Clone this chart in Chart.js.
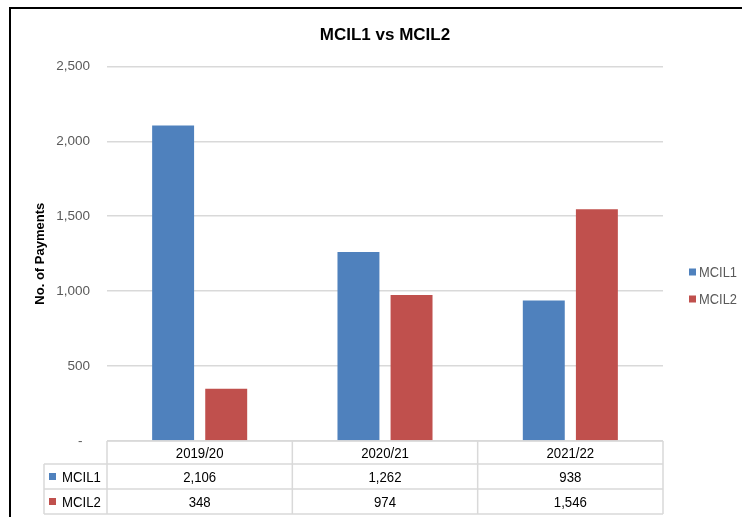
<!DOCTYPE html>
<html>
<head>
<meta charset="utf-8">
<script src="https://cdn.jsdelivr.net/npm/chart.js@4.4.1/dist/chart.umd.min.js"></script>
<style>
  html, body { margin: 0; padding: 0; background: #fff; }
  canvas { display: block; }
</style>
</head>
<body>
<canvas id="mcil-chart" width="742" height="517"></canvas>
<script>
var years = ["2019/20", "2020/21", "2021/22"];
var mcil1 = [2106, 1262, 938];
var mcil2 = [348, 974, 1546];
var yTicks = [0, 500, 1000, 1500, 2000, 2500];

var seriesNames = ["MCIL1", "MCIL2"];
var seriesColors = ["#4F81BD", "#C0504D"];
var narrowFont = "'Liberation Sans Narrow', 'Arial Narrow', 'Liberation Sans', Arial, sans-serif";

Chart.defaults.font.family = narrowFont;

function fmt(v) {
  return v.toLocaleString("en-US");
}

// squeeze text a bit, the original uses a narrow font
function narrowText(ctx, text, x, y, squeeze) {
  ctx.save();
  ctx.translate(x, y);
  ctx.scale(squeeze, 1);
  ctx.fillText(text, 0, 0);
  ctx.restore();
}

// black frame like the pasted excel picture
var framePlugin = {
  id: "frame",
  afterLayout: function (chart) {
    // center the title over the plot area, not over the whole canvas
    chart.titleBlock.left = chart.chartArea.left;
    chart.titleBlock.right = chart.chartArea.right;
  },
  beforeDraw: function (chart) {
    var ctx = chart.ctx;
    ctx.save();
    ctx.fillStyle = "#fff";
    ctx.fillRect(0, 0, chart.width, chart.height);
    ctx.strokeStyle = "#000";
    ctx.lineWidth = 2;
    ctx.beginPath();
    ctx.moveTo(10, chart.height);
    ctx.lineTo(10, 8);
    ctx.lineTo(chart.width, 8);
    ctx.stroke();
    ctx.restore();
  }
};

// legend on the right + data table under the plot
var dataTablePlugin = {
  id: "dataTable",
  afterDraw: function (chart) {
    var ctx = chart.ctx;
    var area = chart.chartArea;
    var xScale = chart.scales.x;
    var colW = (area.right - area.left) / years.length;
    var rows = [area.bottom, area.bottom + 23, area.bottom + 48, area.bottom + 73];
    var labelLeft = 44;
    var series = [mcil1, mcil2];

    ctx.save();
    ctx.strokeStyle = "#d9d9d9";
    ctx.lineWidth = 1.5;
    ctx.beginPath();
    ctx.moveTo(area.left, rows[0]);
    ctx.lineTo(area.right, rows[0]);
    for (var r = 1; r < rows.length; r++) {
      ctx.moveTo(labelLeft, rows[r]);
      ctx.lineTo(area.right, rows[r]);
    }
    ctx.moveTo(labelLeft, rows[1]);
    ctx.lineTo(labelLeft, rows[3]);
    for (var c = 0; c <= years.length; c++) {
      ctx.moveTo(area.left + c * colW, rows[0]);
      ctx.lineTo(area.left + c * colW, rows[3]);
    }
    ctx.stroke();

    ctx.font = "15px " + narrowFont;
    ctx.fillStyle = "#000";
    ctx.textAlign = "center";
    ctx.textBaseline = "middle";
    years.forEach(function (y, i) {
      var cx = xScale.getPixelForValue(i);
      narrowText(ctx, y, cx, (rows[0] + rows[1]) / 2 + 1, 0.88);
      narrowText(ctx, fmt(mcil1[i]), cx, (rows[1] + rows[2]) / 2 + 1, 0.88);
      narrowText(ctx, fmt(mcil2[i]), cx, (rows[2] + rows[3]) / 2 + 1, 0.88);
    });

    ctx.textAlign = "left";
    series.forEach(function (s, i) {
      var cy = (rows[i + 1] + rows[i + 2]) / 2;
      ctx.fillStyle = seriesColors[i];
      ctx.fillRect(labelLeft + 5, cy - 3.5, 7, 7);
      ctx.fillStyle = "#000";
      narrowText(ctx, seriesNames[i], labelLeft + 18, cy + 1, 0.88);
    });

    // legend
    ctx.font = "15px " + narrowFont;
    seriesNames.forEach(function (name, i) {
      var ly = 272 + i * 27;
      ctx.fillStyle = seriesColors[i];
      ctx.fillRect(area.right + 26, ly - 3.5, 7, 7);
      ctx.fillStyle = "#595959";
      narrowText(ctx, name, area.right + 36, ly + 1, 0.86);
    });
    ctx.restore();
  }
};

var ctx = document.getElementById("mcil-chart");

new Chart(ctx, {
  type: "bar",
  data: {
    labels: years,
    datasets: [
      {
        label: seriesNames[0],
        data: mcil1,
        backgroundColor: seriesColors[0],
        barPercentage: 0.79,
        categoryPercentage: 0.573,
      },
      {
        label: seriesNames[1],
        data: mcil2,
        backgroundColor: seriesColors[1],
        barPercentage: 0.79,
        categoryPercentage: 0.573,
      },
    ],
  },
  options: {
    responsive: false,
    animation: false,
    layout: {
      padding: { left: 0, right: 79, top: 8, bottom: 76 },
    },
    plugins: {
      legend: { display: false },
      tooltip: { enabled: false },
      title: {
        display: true,
        text: "MCIL1 vs MCIL2",
        color: "#000",
        font: { size: 17, weight: "bold" },
        padding: { top: 17, bottom: 21 },
      },
    },
    scales: {
      x: { display: false },
      y: {
        min: 0,
        max: 2500,
        afterBuildTicks: function (scale) {
          scale.ticks = yTicks.map(function (v) {
            return { value: v };
          });
        },
        afterFit: function (scale) {
          scale.width = 107;
        },
        ticks: {
          padding: 17,
          color: "#595959",
          font: { size: 13.5 },
          callback: function (value) {
            return value === 0 ? "-  " : fmt(value);
          },
        },
        grid: {
          color: "#d9d9d9",
          lineWidth: 1.5,
          drawTicks: false,
        },
        border: { display: false },
        title: {
          display: true,
          text: "No. of Payments",
          color: "#000",
          font: { size: 13, weight: "bold" },
          padding: { top: 33 },
        },
      },
    },
  },
  plugins: [framePlugin, dataTablePlugin],
});
</script>
</body>
</html>
